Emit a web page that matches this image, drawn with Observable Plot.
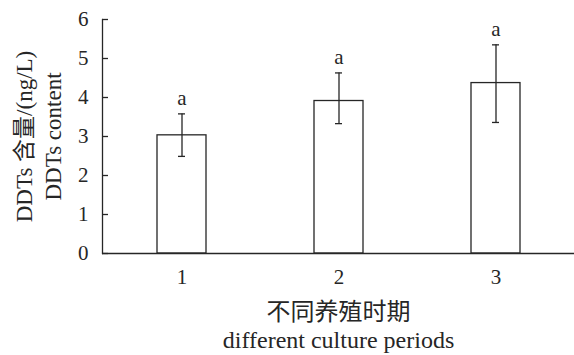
<!DOCTYPE html>
<html>
<head>
<meta charset="utf-8">
<script src="https://cdn.jsdelivr.net/npm/d3@7"></script>
<script src="https://cdn.jsdelivr.net/npm/@observablehq/plot@0.6"></script>
<style>
  html, body { margin: 0; padding: 0; background: #fff; }
  svg { display: block; }
</style>
</head>
<body>
<div id="chart"></div>
<script>
const periods = ["1", "2", "3"];
const means = [3.03, 3.91, 4.37];
const lows = [2.49, 3.33, 3.36];
const highs = [3.58, 4.63, 5.35];
const letters = ["a", "a", "a"];
const yTicks = [0, 1, 2, 3, 4, 5, 6];
const yTitle1 = "DDTs 含量/(ng/L)";
const yTitle2 = "DDTs content";
const xTitle1 = "不同养殖时期";
const xTitle2 = "different culture periods";

const data = periods.map((p, i) => ({period: p, mean: means[i], lo: lows[i], hi: highs[i], letter: letters[i]}));
const ink = "#262626";
const font = "'Liberation Serif', 'Times New Roman', 'Noto Sans CJK SC', serif";

const chart = Plot.plot({
  width: 574,
  height: 355,
  marginLeft: 102,
  marginRight: 0,
  marginTop: 19,
  marginBottom: 102,
  style: {fontFamily: font, fontSize: "20px", color: ink, background: "#fff", overflow: "visible"},
  x: {domain: periods, paddingInner: 0.69, paddingOuter: 0.345, label: null},
  y: {domain: [0, 6], label: null},
  marks: [
    Plot.barY(data, {x: "period", y: "mean", fill: "white", stroke: ink, strokeWidth: 1.3}),
    Plot.ruleX(data, {x: "period", y1: "lo", y2: "hi", stroke: ink, strokeWidth: 1.3}),
    Plot.tickY(data, {x: "period", y: "lo", stroke: ink, strokeWidth: 1.3, insetLeft: 21, insetRight: 21}),
    Plot.tickY(data, {x: "period", y: "hi", stroke: ink, strokeWidth: 1.3, insetLeft: 21, insetRight: 21}),
    Plot.text(data, {x: "period", y: "hi", text: "letter", dy: -16, fontSize: 21, fill: ink}),
    Plot.ruleY([0], {stroke: ink, strokeWidth: 1.3}),
    Plot.frame({anchor: "left", stroke: ink, strokeWidth: 1.3}),
    Plot.tickY(yTicks, {y: d => d, stroke: ink, strokeWidth: 1.3, insetRight: 466}),
    Plot.axisY(yTicks, {tickSize: 0, tickPadding: 14, fontSize: 21, label: null, color: ink}),
    Plot.axisX(periods, {tickSize: 0, tickPadding: 16, fontSize: 21, label: null, color: ink}),
    Plot.text([yTitle1], {frameAnchor: "left", textAnchor: "middle", lineAnchor: "middle", dx: -78, rotate: -90, fontSize: 23, fill: ink}),
    Plot.text([yTitle2], {frameAnchor: "left", textAnchor: "middle", lineAnchor: "middle", dx: -49, rotate: -90, fontSize: 23, fill: ink}),
    Plot.text([xTitle1], {frameAnchor: "bottom", textAnchor: "middle", lineAnchor: "middle", dy: 59, fontSize: 24, fill: ink}),
    Plot.text([xTitle2], {frameAnchor: "bottom", textAnchor: "middle", lineAnchor: "middle", dy: 87, fontSize: 24, fill: ink})
  ]
});
document.getElementById("chart").append(chart);
</script>
</body>
</html>
